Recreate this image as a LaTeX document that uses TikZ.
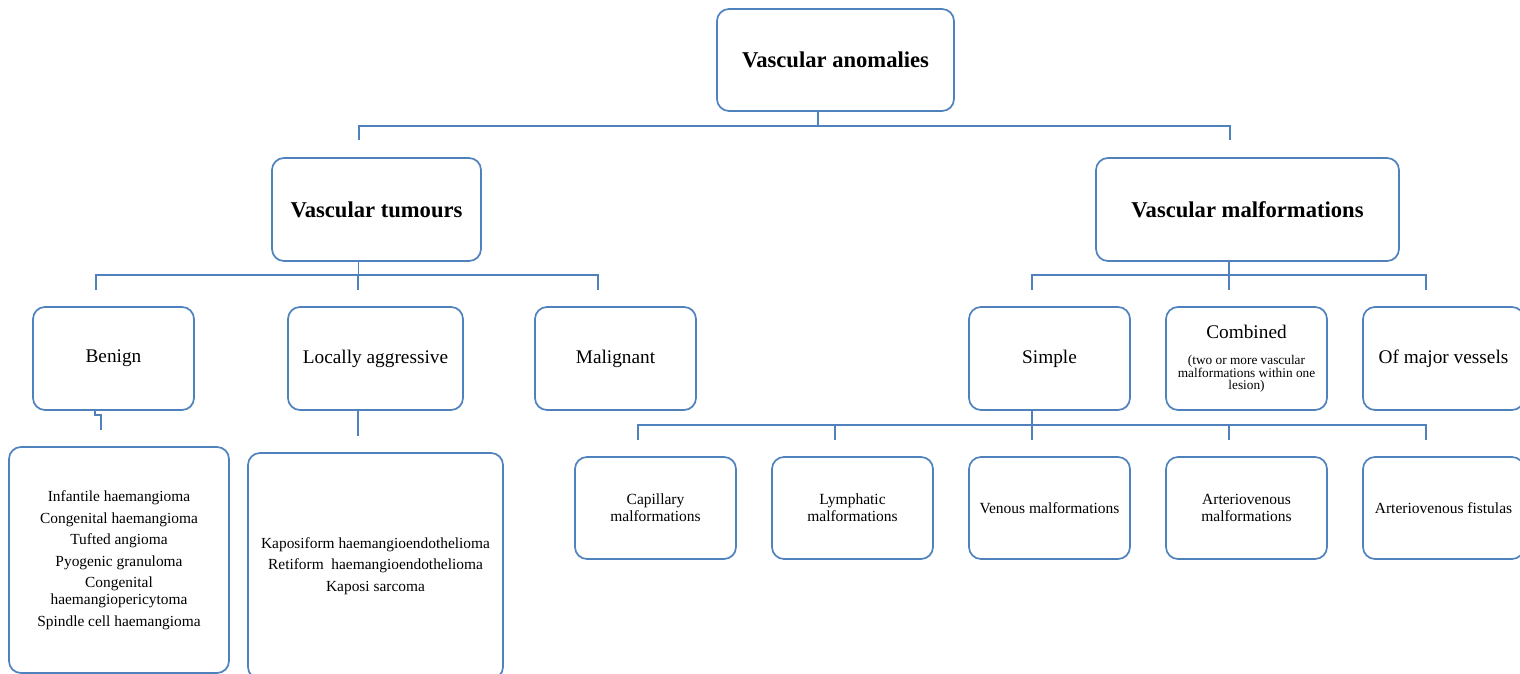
\documentclass[tikz,border=0pt]{standalone}
\usepackage{fontspec}
\setmainfont{Liberation Serif}
\usetikzlibrary{positioning, calc}
\definecolor{linkblue}{RGB}{79,129,189}
\newcommand{\bigtxt}{\fontsize{19.3}{22}\selectfont}

\begin{document}
\begin{tikzpicture}[
    x=1pt, y=-1pt,
    every node/.style={font=\bigtxt},
    box/.style={
        rectangle,
        draw=linkblue,
        line width=1.7pt,
        rounded corners=12pt,
        minimum width=161pt,
        minimum height=103pt,
        align=center,
        inner sep=2pt,
        outer sep=0pt
    },
    headbox/.style={
        box,
        font=\fontsize{22.6}{26}\selectfont\bfseries
    },
    listbox/.style={
        box,
        font=\fontsize{15.4}{17}\selectfont
    },
    typebox/.style={
        box,
        minimum height=102pt,
        font=\fontsize{15.5}{17}\selectfont
    },
    link/.style={
        draw=linkblue,
        line width=1.7pt
    }
]
\clip (0,0) rectangle (1520,674);

% Blocs
\node[headbox, minimum width=237pt, minimum height=102pt] (root) at (835.5,60) {Vascular anomalies};
\node[headbox, minimum width=209pt] (tumours) at (376.5,209.5) {Vascular tumours};
\node[headbox, minimum width=303pt] (malform) at (1247.5,209.5) {Vascular malformations};

\node[box] (benign) at (113.5,358.5) {Benign};
\node[box, minimum width=175pt] (locally) at (375.5,358.5) {Locally aggressive};
\node[box] (malignant) at (615.5,358.5) {Malignant};

\node[box] (simple) at (1049.5,358.5) {Simple};
\node[box, right=36pt of simple, font=\fontsize{13.3}{12.5}\selectfont] (combined) {\bigtxt Combined\\[14pt]
    (two or more vascular\\malformations within one\\lesion)};
\node[box, right=36pt of combined] (major) {Of major vessels};

\node[listbox, minimum width=220pt, minimum height=226pt] (benignlist) at (119,560) {Infantile haemangioma\\[4.5pt]
    Congenital haemangioma\\[4.5pt]
    Tufted angioma\\[4.5pt]
    Pyogenic granuloma\\[4.5pt]
    Congenital\\haemangiopericytoma\\[4.5pt]
    Spindle cell haemangioma};
\node[listbox, minimum width=255pt, minimum height=226pt] (locallylist) at (375.5,566) {Kaposiform haemangioendothelioma\\[4.5pt]
    Retiform\ \ haemangioendothelioma\\[4.5pt]
    Kaposi sarcoma};

\node[typebox] (capillary) at (655.5,508) {Capillary\\malformations};
\node[typebox, right=36pt of capillary] (lymphatic) {Lymphatic\\malformations};
\node[typebox, right=36pt of lymphatic] (venous) {Venous malformations};
\node[typebox, right=36pt of venous] (avm) {Arteriovenous\\malformations};
\node[typebox, right=36pt of avm] (avf) {Arteriovenous fistulas};

% Liens
\coordinate (rootbus) at ($(root.south)+(-17.5,15)$);
\draw[link] ($(root.south)+(-17.5,0)$) -- (rootbus);
\foreach \c in {tumours, malform}
    \draw[link] (rootbus) -| ($(\c.north)+(-17.5,-18)$);

\coordinate (tumbus) at ($(tumours.south)+(-18,14)$);
\draw[link] ($(tumours.south)+(-18,0)$) -- (tumbus);
\foreach \c in {benign, locally, malignant}
    \draw[link] (tumbus) -| ($(\c.north)+(-17.5,-17)$);

\coordinate (malbus) at ($(malform.south)+(-18.5,14)$);
\draw[link] ($(malform.south)+(-18.5,0)$) -- (malbus);
\foreach \c in {simple, combined, major}
    \draw[link] (malbus) -| ($(\c.north)+(-17.5,-17)$);

\draw[link] ($(benign.south)+(-18.5,0)$) -- ++(0,5) -| ($(benignlist.north)+(-18,-17)$);
\draw[link] ($(locally.south)+(-17.5,0)$) -- ($(locallylist.north)+(-17.5,-17)$);

\coordinate (simplebus) at ($(simple.south)+(-17.5,15)$);
\draw[link] ($(simple.south)+(-17.5,0)$) -- (simplebus);
\foreach \c in {capillary, lymphatic, venous, avm, avf}
    \draw[link] (simplebus) -| ($(\c.north)+(-17.5,-17)$);

\end{tikzpicture}
\end{document}
